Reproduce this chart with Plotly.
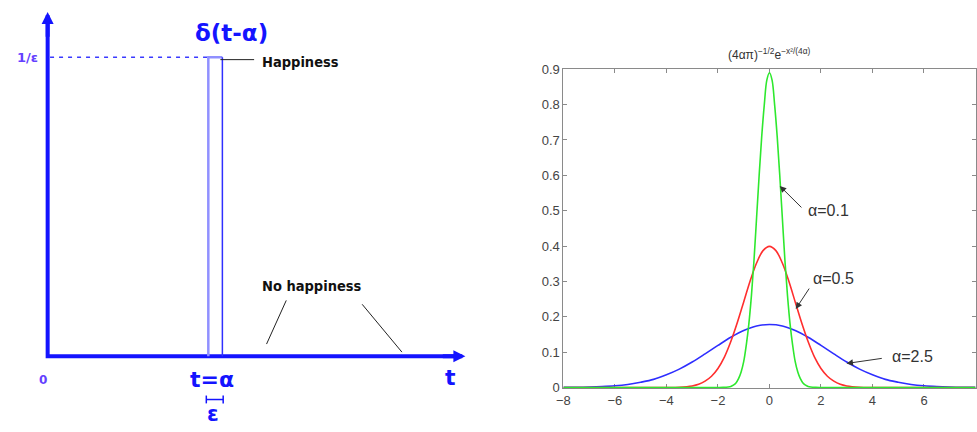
import subprocess
import plotly.graph_objects as go

# ---------------- right panel: heat-kernel curves ----------------
x_a01 = [-8, -2.0, -1.8, -1.6, -1.5, -1.4, -1.3, -1.2, -1.1, -1.0, -0.9, -0.8, -0.7, -0.6, -0.5,
         -0.4, -0.3, -0.2, -0.1, 0.0, 0.1, 0.2, 0.3, 0.4, 0.5, 0.6, 0.7, 0.8, 0.9, 1.0, 1.1, 1.2,
         1.3, 1.4, 1.5, 1.6, 1.8, 2.0, 8]
y_a01 = [0.0, 0.0, 0.0003, 0.0015, 0.0032, 0.0067, 0.013, 0.025, 0.044, 0.073, 0.12, 0.18, 0.26,
         0.36, 0.48, 0.60, 0.71, 0.80, 0.87, 0.89, 0.87, 0.80, 0.71, 0.60, 0.48, 0.36, 0.26, 0.18,
         0.12, 0.073, 0.044, 0.025, 0.013, 0.0067, 0.0032, 0.0015, 0.0003, 0.0, 0.0]

x_a05 = [-8, -5, -4, -3.5, -3.0, -2.75, -2.5, -2.25, -2.0, -1.75, -1.5, -1.25, -1.0, -0.75, -0.5,
         -0.25, 0.0, 0.25, 0.5, 0.75, 1.0, 1.25, 1.5, 1.75, 2.0, 2.25, 2.5, 2.75, 3.0, 3.5, 4, 5, 8]
y_a05 = [0.0, 0.0, 0.0001, 0.0009, 0.0044, 0.009, 0.018, 0.032, 0.054, 0.086, 0.130, 0.183, 0.242,
         0.301, 0.352, 0.387, 0.399, 0.387, 0.352, 0.301, 0.242, 0.183, 0.130, 0.086, 0.054, 0.032,
         0.018, 0.009, 0.0044, 0.0009, 0.0001, 0.0, 0.0]

x_a25 = [-8, -7.5, -7, -6.5, -6, -5.5, -5, -4.5, -4, -3.5, -3, -2.5, -2, -1.5, -1, -0.5, 0,
         0.5, 1, 1.5, 2, 2.5, 3, 3.5, 4, 4.5, 5, 5.5, 6, 6.5, 7, 7.5, 8]
y_a25 = [0.0003, 0.0006, 0.0013, 0.0026, 0.0048, 0.0087, 0.015, 0.023, 0.036, 0.052, 0.072, 0.095,
         0.119, 0.142, 0.161, 0.174, 0.178, 0.174, 0.161, 0.142, 0.119, 0.095, 0.072, 0.052, 0.036,
         0.023, 0.015, 0.0087, 0.0048, 0.0026, 0.0013, 0.0006, 0.0003]

curve_labels = ["α=0.1", "α=0.5", "α=2.5"]
arrow_heads = [(0.40, 0.57), (1.02, 0.222), (2.99, 0.068)]
arrow_tails = [(1.30, 0.505), (1.58, 0.284), (4.42, 0.083)]
label_pos = [(1.42, 0.50), (1.62, 0.309), (4.67, 0.088)]

x_ticks = [-8, -6, -4, -2, 0, 2, 4, 6, 8]
y_ticks = [0, 0.1, 0.2, 0.3, 0.4, 0.5, 0.6, 0.7, 0.8, 0.9]

# ---------------- left panel: delta pulse diagram ----------------
alpha_t = 4.0        # t = α
eps_w = 0.35         # pulse width ε
pulse_h = 2.857      # pulse height 1/ε
t_axis_end = 10.4
v_axis_end = 3.29

BLUE = "#1414ff"
LIGHTBLUE = "#9090ff"
PURPLE = "#6440ff"

# pick a condensed bold face for the black labels if one is installed
try:
    fams = subprocess.run(["fc-list", ":", "family"], capture_output=True, text=True, timeout=10).stdout
except Exception:
    fams = ""
if "Liberation Sans Narrow" in fams:
    NF, NSIZE = "Liberation Sans Narrow", 18
elif "DejaVu Sans Condensed" in fams:
    NF, NSIZE = "DejaVu Sans Condensed", 14.5
else:
    NF, NSIZE = "Lato, Liberation Sans, Arial, sans-serif", 16.5

W, H = 977, 432

fig = go.Figure()

# axes of diagram
fig.add_trace(go.Scatter(x=[0, 0, t_axis_end - 0.2], y=[v_axis_end - 0.05, 0, 0], mode="lines",
                         line=dict(color=BLUE, width=4), xaxis="x", yaxis="y", hoverinfo="skip"))
# dashed line at 1/ε
fig.add_trace(go.Scatter(x=[0.06, alpha_t], y=[pulse_h, pulse_h], mode="lines",
                         line=dict(color="#3a3aff", width=1.5, dash="4px,5px"),
                         xaxis="x", yaxis="y", hoverinfo="skip"))
# pulse: left + top edge (light), right edge (dark)
fig.add_trace(go.Scatter(x=[alpha_t, alpha_t, alpha_t + eps_w], y=[0, pulse_h, pulse_h], mode="lines",
                         line=dict(color=LIGHTBLUE, width=2.5), xaxis="x", yaxis="y", hoverinfo="skip"))
fig.add_trace(go.Scatter(x=[alpha_t + eps_w, alpha_t + eps_w], y=[0, pulse_h], mode="lines",
                         line=dict(color="#3030ff", width=1.5), xaxis="x", yaxis="y", hoverinfo="skip"))
# ε bracket
fig.add_trace(go.Scatter(x=[alpha_t - 0.05, alpha_t - 0.05, None, alpha_t - 0.05, alpha_t + eps_w + 0.02,
                            None, alpha_t + eps_w + 0.02, alpha_t + eps_w + 0.02],
                         y=[-0.375, -0.45, None, -0.413, -0.413, None, -0.375, -0.45], mode="lines",
                         line=dict(color=BLUE, width=1.5), xaxis="x", yaxis="y", hoverinfo="skip"))
# pointer lines
fig.add_trace(go.Scatter(x=[alpha_t + eps_w - 0.05, 5.14, None, 5.94, 5.45, None, 7.83, 8.82],
                         y=[2.835, 2.835, None, 0.534, 0.117, None, 0.497, 0.04], mode="lines",
                         line=dict(color="#222222", width=1), xaxis="x", yaxis="y", hoverinfo="skip"))

# curves
fig.add_trace(go.Scatter(x=x_a25, y=y_a25, mode="lines", line=dict(color="#2e2eff", width=1.6, shape="spline"),
                         xaxis="x2", yaxis="y2"))
fig.add_trace(go.Scatter(x=x_a05, y=y_a05, mode="lines", line=dict(color="#ff2e2e", width=1.6, shape="spline"),
                         xaxis="x2", yaxis="y2"))
fig.add_trace(go.Scatter(x=x_a01, y=y_a01, mode="lines", line=dict(color="#2ee82e", width=1.6, shape="spline"),
                         xaxis="x2", yaxis="y2"))

ann = []
# arrowheads of diagram axes
ann.append(dict(x=t_axis_end, y=0, ax=t_axis_end - 0.6, ay=0, xref="x", yref="y", axref="x", ayref="y",
                text="", showarrow=True, arrowhead=2, arrowsize=0.6, arrowwidth=4, arrowcolor=BLUE))
ann.append(dict(x=0, y=v_axis_end, ax=0, ay=v_axis_end - 0.25, xref="x", yref="y", axref="x", ayref="y",
                text="", showarrow=True, arrowhead=2, arrowsize=0.6, arrowwidth=4, arrowcolor=BLUE))

BF = "DejaVu Sans"
ann += [
    dict(x=4.57, y=3.088, text="<b>δ(t-α)</b>", font=dict(family=BF, size=23, color=BLUE)),
    dict(x=4.09, y=-0.222, text="<b>t=α</b>", font=dict(family=BF, size=22, color=BLUE)),
    dict(x=10.02, y=-0.203, text="<b>t</b>", font=dict(family=BF, size=22, color=BLUE)),
    dict(x=4.12, y=-0.555, text="<b>ε</b>", font=dict(family=BF, size=21, color=BLUE)),
    dict(x=-0.106, y=-0.222, text="<b>0</b>", font=dict(family=BF, size=12, color=PURPLE)),
    dict(x=-0.19, y=pulse_h, text="<b>1/ε</b>", xanchor="right", font=dict(family=BF, size=13, color=PURPLE)),
    dict(x=5.28, y=2.81, text="<b>Happiness</b>", xanchor="left", font=dict(family=NF, size=NSIZE, color="#111111")),
    dict(x=6.58, y=0.675, text="<b>No happiness</b>", font=dict(family=NF, size=NSIZE, color="#111111")),
]
for a in ann[2:]:
    a.update(xref="x", yref="y", showarrow=False, yanchor="middle")

# right panel title
ann.append(dict(x=0, y=(H - 49) / H, xref="x2", yref="paper", showarrow=False, yanchor="middle",
                text="(4απ)<sup>−1/2</sup>e<sup>−x²/(4α)</sup>",
                font=dict(family="Liberation Sans, Arial, sans-serif", size=12, color="#333333")))
for lab, hd, tl, lp in zip(curve_labels, arrow_heads, arrow_tails, label_pos):
    ann.append(dict(x=hd[0], y=hd[1], ax=tl[0], ay=tl[1], xref="x2", yref="y2", axref="x2", ayref="y2",
                    text="", showarrow=True, arrowhead=2, arrowsize=1.3, arrowwidth=1, arrowcolor="#333333"))
    ann.append(dict(x=lp[0], y=lp[1], xref="x2", yref="y2", text=lab, showarrow=False, xanchor="left",
                    yanchor="middle",
                    font=dict(family="Liberation Sans, Arial, sans-serif", size=16, color="#333333")))

hidden = dict(visible=False, showgrid=False, zeroline=False, fixedrange=True)
axstyle = dict(showline=True, linecolor="#8a8a8a", linewidth=1, mirror="ticks", ticks="inside", ticklen=4,
               tickcolor="#8a8a8a", showgrid=False, zeroline=False, layer="below traces",
               tickfont=dict(family="Liberation Sans, Arial, sans-serif", size=13, color="#444444"))

fig.update_layout(
    width=W, height=H, margin=dict(l=0, r=0, t=0, b=0),
    paper_bgcolor="white", plot_bgcolor="white", showlegend=False,
    xaxis=dict(domain=[0, 480 / W], range=[-1.012, 10.84], **hidden),
    yaxis=dict(domain=[0, 1], range=[-0.6565, 3.338], **hidden),
    xaxis2=dict(domain=[561 / W, 976.5 / W], range=[-8, 8], tickvals=x_ticks, anchor="y2", **axstyle),
    yaxis2=dict(domain=[(H - 394) / H, (H - 64.3) / H], range=[-0.002, 0.9], tickvals=y_ticks,
                anchor="x2", **axstyle),
    annotations=ann,
)

fig.write_html("out.html", config={"displayModeBar": False},
               post_script="document.body.style.margin='0';document.body.style.overflow='hidden';")
